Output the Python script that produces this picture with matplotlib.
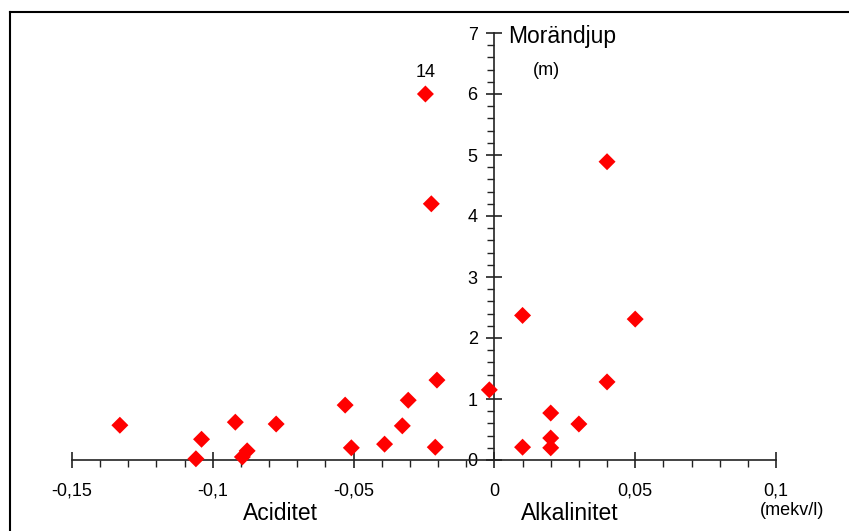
import matplotlib.pyplot as plt
from matplotlib.ticker import MultipleLocator, FuncFormatter
from matplotlib.lines import Line2D

plt.rcParams['font.family'] = ['Liberation Sans', 'DejaVu Sans']

# alkalinitet (+) / aciditet (-) in mekv/l and morändjup in m
alk = [-0.133, -0.106, -0.104, -0.092, -0.0895, -0.0878, -0.0775,
       -0.053, -0.0508, -0.039, -0.0327, -0.0306, -0.0204, -0.0245,
       -0.0224, -0.021, -0.0018, 0.01, 0.01, 0.02, 0.02, 0.02,
       0.03, 0.04, 0.04, 0.05]
djup = [0.57, 0.02, 0.34, 0.62, 0.05, 0.15, 0.59,
        0.90, 0.20, 0.26, 0.56, 0.98, 1.31, 6.0,
        4.2, 0.21, 1.15, 2.37, 0.21, 0.77, 0.36, 0.20,
        0.59, 4.89, 1.28, 2.31]
label_idx = 13
label_txt = '14'

fig = plt.figure(figsize=(8.49, 5.31), dpi=100)
ax = fig.add_axes([72/849, 71/531, 704/849, 427/531])

ax.scatter(alk, djup, marker='D', s=75, color='#ff0000', edgecolors='none',
           zorder=3, clip_on=False)
ax.annotate(label_txt, (alk[label_idx], djup[label_idx]), xytext=(0, 12.5),
            textcoords='offset points', ha='center', va='baseline', fontsize=13)

ax.set_xlim(-0.15, 0.1)
ax.set_ylim(0, 7)
ax.spines['left'].set_position(('data', 0))
ax.spines['bottom'].set_position(('data', 0))
ax.spines['top'].set_visible(False)
ax.spines['right'].set_visible(False)
for s in ('left', 'bottom'):
    ax.spines[s].set_linewidth(1.2)
    ax.spines[s].set_color('#222222')

ax.xaxis.set_major_locator(MultipleLocator(0.05))
ax.xaxis.set_minor_locator(MultipleLocator(0.01))
ax.yaxis.set_major_locator(MultipleLocator(1))
ax.yaxis.set_minor_locator(MultipleLocator(0.2))

def komma(v, pos):
    s = ('%.2f' % v).rstrip('0').rstrip('.')
    if s in ('-0', '0.'):
        s = '0'
    return s.replace('.', ',')

ax.xaxis.set_major_formatter(FuncFormatter(komma))
ax.yaxis.set_major_formatter(FuncFormatter(lambda v, p: '%d' % v))

ax.tick_params(axis='x', which='major', direction='inout', length=11, width=1.2,
               pad=11, labelsize=13, color='#222222')
ax.tick_params(axis='x', which='minor', direction='out', length=5, width=1.0,
               color='#222222')
ax.tick_params(axis='y', which='major', direction='inout', length=12, width=1.2,
               pad=6, labelsize=13, color='#222222')
ax.tick_params(axis='y', which='minor', direction='out', length=5, width=1.0,
               color='#222222')

fig.text(562/849, 1 - 43/531, 'Morändjup', fontsize=16.5, ha='center', va='baseline')
fig.text(546/849, 1 - 75/531, '(m)', fontsize=13, ha='center', va='baseline')
fig.text(280/849, 1 - 520/531, 'Aciditet', fontsize=16.5, ha='center', va='baseline')
fig.text(570/849, 1 - 520/531, 'Alkalinitet', fontsize=16.5, ha='center', va='baseline')
fig.text(792/849, 1 - 515/531, '(mekv/l)', fontsize=13, ha='center', va='baseline')

# frame round the picture (top and left edges visible)
fig.add_artist(Line2D([10/849, 1], [1 - 12/531, 1 - 12/531], color='black', lw=1.5))
fig.add_artist(Line2D([10/849, 10/849], [0, 1 - 12/531], color='black', lw=1.5))

fig.savefig('out.png', dpi=100)
